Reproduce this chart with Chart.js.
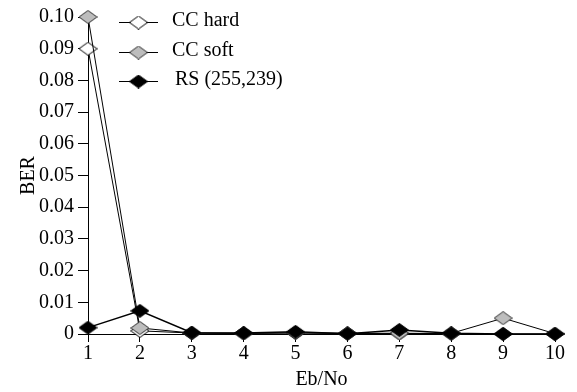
<!DOCTYPE html>
<html>
<head>
<meta charset="utf-8">
<script src="https://cdn.jsdelivr.net/npm/chart.js@4"></script>
<style>
  html, body { margin: 0; padding: 0; background: #fff; }
  #wrap { width: 577px; height: 392px; }
</style>
</head>
<body>
<div id="wrap"><canvas id="chart"></canvas></div>
<script>
const ebNo = ['1', '2', '3', '4', '5', '6', '7', '8', '9', '10'];
const ccHard = [0.09, 0.001, 0.0003, 0.0002, 0.0003, 0.0002, 0.0002, 0.0001, 0.0, 0.0];
const ccSoft = [0.1, 0.0019, 0.0003, 0.0002, 0.0004, 0.0002, 0.0002, 0.0002, 0.005, 0.0001];
const rs = [0.002, 0.0073, 0.0004, 0.0003, 0.0007, 0.0001, 0.0013, 0.0002, 0.0, 0.0];
const yTicks = [0, 0.01, 0.02, 0.03, 0.04, 0.05, 0.06, 0.07, 0.08, 0.09, 0.10];

const serif = "'Liberation Serif', 'DejaVu Serif', serif";

// diamond marker drawn a bit wider than tall, like the original
function makeDiamond(fill, stroke) {
  const c = document.createElement('canvas');
  c.width = 19;
  c.height = 14;
  const g = c.getContext('2d');
  g.beginPath();
  g.moveTo(9.5, 0.5);
  g.lineTo(18.5, 7);
  g.lineTo(9.5, 13.5);
  g.lineTo(0.5, 7);
  g.closePath();
  g.fillStyle = fill;
  g.fill();
  g.lineWidth = 1;
  g.strokeStyle = stroke;
  g.stroke();
  return c;
}

const whiteDiamond = makeDiamond('#ffffff', '#000000');
const greyDiamond = makeDiamond('#bdbdbd', '#303030');
const blackDiamond = makeDiamond('#000000', '#000000');

// legend inside the plot: short line with marker, then the label
const insideLegend = {
  id: 'insideLegend',
  afterDraw(chart) {
    const { ctx, chartArea } = chart;
    const x0 = chartArea.left + 31;
    const x1 = chartArea.left + 70;
    const rows = [5, 35, 64];
    ctx.save();
    ctx.font = '20px ' + serif;
    ctx.textBaseline = 'middle';
    ctx.fillStyle = '#000';
    chart.data.datasets.forEach((ds, i) => {
      const y = chartArea.top + rows[i];
      ctx.beginPath();
      ctx.moveTo(x0, y + 0.5);
      ctx.lineTo(x1, y + 0.5);
      ctx.strokeStyle = '#000';
      ctx.lineWidth = 1;
      ctx.stroke();
      const img = ds.pointStyle;
      ctx.drawImage(img, (x0 + x1) / 2 - img.width / 2, y + 0.5 - img.height / 2);
      ctx.fillText(ds.label, chartArea.left + 84 + (i === 2 ? 3 : 0), y - 1);
    });
    ctx.restore();
  }
};

new Chart(document.getElementById('chart'), {
  type: 'line',
  data: {
    labels: ebNo,
    datasets: [
      {
        label: 'CC hard',
        data: ccHard,
        order: 3,
        borderColor: '#000',
        borderWidth: 1,
        pointStyle: whiteDiamond,
        pointRadius: 7,
        tension: 0,
        clip: false
      },
      {
        label: 'CC soft',
        data: ccSoft,
        order: 2,
        borderColor: '#000',
        borderWidth: 1,
        pointStyle: greyDiamond,
        pointRadius: 7,
        tension: 0,
        clip: false
      },
      {
        label: 'RS (255,239)',
        data: rs,
        order: 1,
        borderColor: '#000',
        borderWidth: 1.5,
        pointStyle: blackDiamond,
        pointRadius: 7,
        tension: 0,
        clip: false
      }
    ]
  },
  options: {
    responsive: true,
    maintainAspectRatio: false,
    animation: false,
    layout: { padding: { left: 0, right: 22, top: 17, bottom: 0 } },
    plugins: {
      legend: { display: false },
      tooltip: { enabled: false }
    },
    scales: {
      x: {
        type: 'category',
        offset: false,
        grid: { display: true, drawOnChartArea: false, drawTicks: true, tickLength: 8, color: '#000', offset: false },
        border: { display: true, color: '#000', width: 1 },
        ticks: { color: '#000', font: { family: serif, size: 20 }, padding: 0, maxRotation: 0, autoSkip: false },
        title: { display: true, text: 'Eb/No', color: '#000', font: { family: serif, size: 20 }, padding: { top: 2, bottom: 0 } },
        afterFit(scale) { scale.height = 58; }
      },
      y: {
        min: 0,
        max: 0.1,
        afterBuildTicks(scale) { scale.ticks = yTicks.map(v => ({ value: v })); },
        grid: { display: true, drawOnChartArea: false, drawTicks: true, tickLength: 10, color: '#000' },
        border: { display: true, color: '#000', width: 1 },
        ticks: {
          color: '#000',
          font: { family: serif, size: 20 },
          padding: 4,
          autoSkip: false,
          callback: v => (v === 0 ? '0' : v.toFixed(2))
        },
        title: { display: true, text: 'BER', color: '#000', font: { family: serif, size: 20 }, padding: { top: 17, bottom: 0 } },
        afterFit(scale) { scale.width = 88; }
      }
    }
  },
  plugins: [insideLegend]
});
</script>
</body>
</html>
